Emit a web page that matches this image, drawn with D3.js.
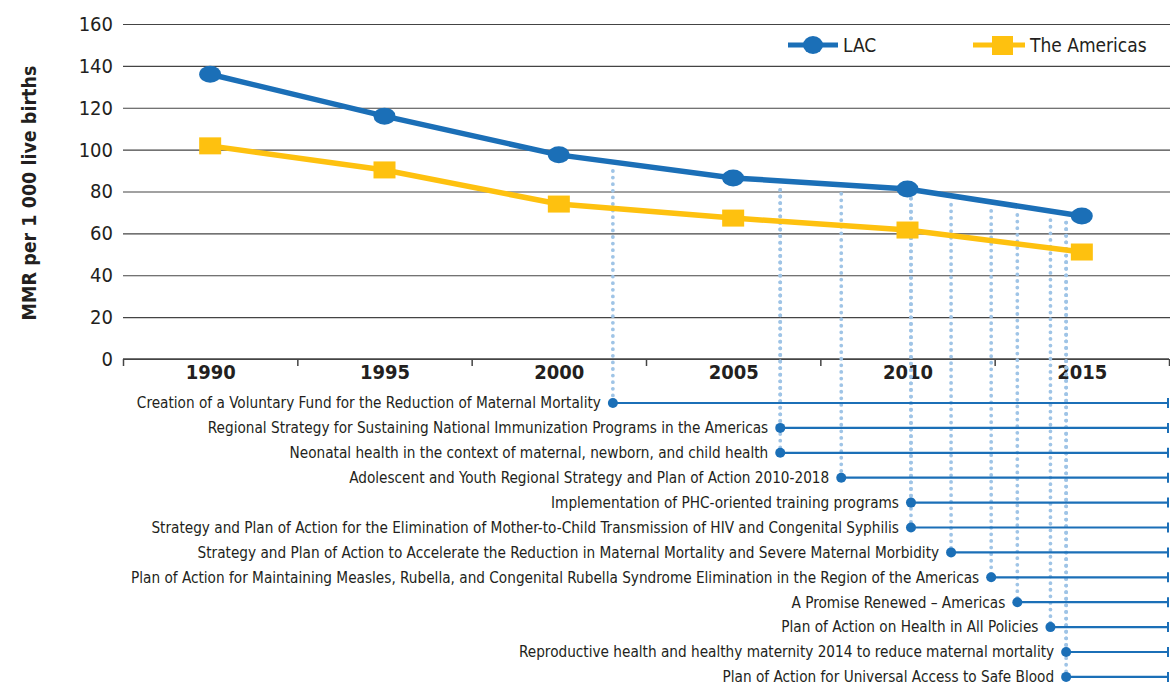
<!DOCTYPE html>
<html><head><meta charset="utf-8">
<script src="https://cdn.jsdelivr.net/npm/d3@7"></script>
<style>
body{margin:0;background:#fff;}
text{font-family:"Liberation Sans Narrow","Arial Narrow","DejaVu Sans Condensed",sans-serif;fill:#231f20;}
</style></head>
<body><svg id="c" width="1170" height="685"></svg>
<script>
const years = [1990, 1995, 2000, 2005, 2010, 2015];
const lac = [136, 116, 97.5, 86.5, 81.2, 68.3];
const americas = [101.8, 90.3, 74, 67.3, 61.6, 51.1];
const yTicks = [0, 20, 40, 60, 80, 100, 120, 140, 160];
const policies = [
  "Creation of a Voluntary Fund for the Reduction of Maternal Mortality",
  "Regional Strategy for Sustaining National Immunization Programs in the Americas",
  "Neonatal health in the context of maternal, newborn, and child health",
  "Adolescent and Youth Regional Strategy and Plan of Action 2010-2018",
  "Implementation of PHC-oriented training programs",
  "Strategy and Plan of Action for the Elimination of Mother-to-Child Transmission of HIV and Congenital Syphilis",
  "Strategy and Plan of Action to Accelerate the Reduction in Maternal Mortality and Severe Maternal Morbidity",
  "Plan of Action for Maintaining Measles, Rubella, and Congenital Rubella Syndrome Elimination in the Region of the Americas",
  "A Promise Renewed \u2013 Americas",
  "Plan of Action on Health in All Policies",
  "Reproductive health and healthy maternity 2014 to reduce maternal mortality",
  "Plan of Action for Universal Access to Safe Blood"
];
const policyYear = [2001.55, 2006.35, 2006.35, 2008.1, 2010.1, 2010.1, 2011.25, 2012.4, 2013.15, 2014.1, 2014.55, 2014.55];

(function () {
const svg = d3.select("#c");
const mLeft = 123, mRight = 1169, mTop = 24, mBottom = 359;
const x = d3.scaleLinear().domain([1987.5, 2017.5]).range([mLeft, mRight]);
const y = d3.scaleLinear().domain([0, 160]).range([mBottom, mTop]);
const blue = "#1b6fb7", yellow = "#fec10f", dotBlue = "#9fc4e6";
const ff = "'Liberation Sans Narrow','Arial Narrow','DejaVu Sans Condensed',sans-serif";

// gridlines + y labels
const ya = svg.append("g").attr("transform", `translate(${mLeft},0)`)
  .call(d3.axisLeft(y).tickValues(yTicks).tickSize(-(mRight - mLeft + 1)).tickPadding(10).tickFormat(d3.format("d")));
ya.select(".domain").remove();
ya.selectAll(".tick line").attr("stroke", "#444").attr("stroke-width", 1.2);
ya.selectAll(".tick text").attr("font-size", 20).attr("dy", "0.32em")
  .style("font-family", ff).attr("fill", "#231f20");

// x axis
const bounds = d3.range(1987.5, 2018, 5);
const xa = svg.append("g").attr("transform", `translate(0,${mBottom})`)
  .call(d3.axisBottom(x).tickValues(bounds).tickSize(7).tickFormat(""));
xa.select(".domain").attr("stroke", "#444").attr("stroke-width", 1.5).attr("d", `M${mLeft},0H${mRight}`);
xa.selectAll(".tick line").attr("stroke", "#444").attr("stroke-width", 1.5);
const xl = svg.append("g").attr("transform", `translate(0,${mBottom})`)
  .call(d3.axisBottom(x).tickValues(years).tickSize(0).tickPadding(6).tickFormat(d3.format("d")));
xl.select(".domain").remove();
xl.selectAll(".tick text").attr("font-size", 20).attr("font-weight", "bold")
  .style("font-family", ff).attr("fill", "#000");

// y title
svg.append("text").attr("transform", "translate(36,193) rotate(-90)")
  .attr("text-anchor", "middle").attr("font-size", 19.5).attr("font-weight", "bold")
  .attr("fill", "#000").text("MMR per 1 000 live births");

// dotted verticals
const lacAt = d3.scaleLinear().domain(years).range(lac);
const rowY = i => 403 + i * 24.9;
const g = svg.append("g");
policyYear.forEach((yr, i) => {
  g.append("line").attr("x1", x(yr)).attr("x2", x(yr))
    .attr("y1", y(lacAt(yr)) + 9).attr("y2", rowY(i))
    .attr("stroke", dotBlue).attr("stroke-width", 3.8).attr("stroke-linecap", "round")
    .attr("stroke-dasharray", "0,6.6");
});

// lines
const line = d3.line().x((d, i) => x(years[i])).y(d => y(d));
svg.append("path").datum(americas).attr("d", line).attr("fill", "none").attr("stroke", yellow).attr("stroke-width", 5.5);
svg.append("path").datum(lac).attr("d", line).attr("fill", "none").attr("stroke", blue).attr("stroke-width", 5.5);
svg.append("g").selectAll("rect").data(americas).join("rect")
  .attr("x", (d, i) => x(years[i]) - 11).attr("y", d => y(d) - 8.5).attr("width", 22).attr("height", 17).attr("fill", yellow);
svg.append("g").selectAll("ellipse").data(lac).join("ellipse")
  .attr("cx", (d, i) => x(years[i])).attr("cy", d => y(d)).attr("rx", 11).attr("ry", 8.5).attr("fill", blue);

// legend
const lg = svg.append("g");
lg.append("line").attr("x1", 788).attr("x2", 838).attr("y1", 45).attr("y2", 45).attr("stroke", blue).attr("stroke-width", 5);
lg.append("ellipse").attr("cx", 813).attr("cy", 45).attr("rx", 10).attr("ry", 9).attr("fill", blue);
lg.append("text").attr("x", 843).attr("y", 45).attr("dy", "0.35em").attr("font-size", 19).text("LAC");
lg.append("line").attr("x1", 973).attr("x2", 1025).attr("y1", 45).attr("y2", 45).attr("stroke", yellow).attr("stroke-width", 5);
lg.append("rect").attr("x", 992).attr("y", 36).attr("width", 21).attr("height", 19).attr("fill", yellow);
lg.append("text").attr("x", 1030).attr("y", 45).attr("dy", "0.35em").attr("font-size", 19).text("The Americas");

// policy rows
const pg = svg.append("g");
policies.forEach((p, i) => {
  const yy = rowY(i), xx = x(policyYear[i]);
  pg.append("line").attr("x1", xx).attr("x2", mRight - 1).attr("y1", yy).attr("y2", yy).attr("stroke", blue).attr("stroke-width", 2.2);
  pg.append("line").attr("x1", mRight - 1).attr("x2", mRight - 1).attr("y1", yy - 5).attr("y2", yy + 5).attr("stroke", blue).attr("stroke-width", 2);
  pg.append("circle").attr("cx", xx).attr("cy", yy).attr("r", 5).attr("fill", blue);
  pg.append("text").attr("x", xx - 12).attr("y", yy).attr("dy", "0.35em").attr("text-anchor", "end")
    .attr("font-size", 15.2).text(p);
});
})();
</script></body></html>
